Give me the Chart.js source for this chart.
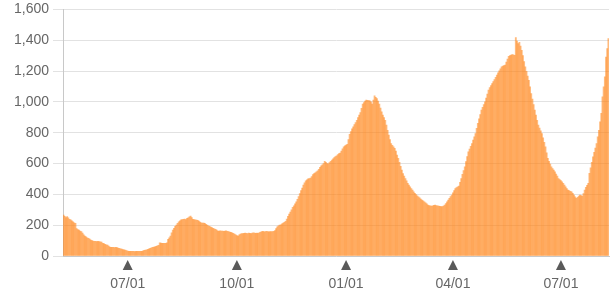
<!DOCTYPE html>
<html>
<head>
<meta charset="utf-8">
<script src="https://cdn.jsdelivr.net/npm/chart.js@4/dist/chart.umd.min.js"></script>
<style>
  html, body { margin: 0; padding: 0; background: #fff; overflow: hidden; }
  #wrap { position: relative; width: 613px; height: 303px; margin-top: -3px; }
</style>
</head>
<body>
<div id="wrap"><canvas id="casesChart"></canvas></div>
<script>
// first day of the series: 2020-05-08, one bar per day
const startDate = [2020, 4, 8];

// daily values, one row per month
const may2020 = [266, 258, 250, 255, 248, 238, 234, 228, 222, 216, 212, 178, 172, 168, 162, 158, 148, 138, 130, 124, 118, 115, 110, 104];
const jun2020 = [100, 96, 95, 95, 94, 95, 93, 92, 90, 82, 80, 76, 72, 71, 64, 58, 56, 57, 56, 55, 56, 54, 52, 50, 47, 45, 42, 40, 38, 35];
const jul2020 = [32, 30, 30, 31, 30, 30, 29, 30, 31, 30, 30, 30, 31, 34, 36, 38, 40, 43, 46, 50, 53, 56, 58, 60, 62, 66, 70, 86, 84, 82, 82];
const aug2020 = [82, 83, 86, 108, 118, 130, 150, 168, 180, 192, 201, 212, 222, 229, 234, 236, 238, 240, 236, 244, 248, 254, 259, 250, 238, 236, 234, 233, 232, 226, 220];
const sep2020 = [216, 214, 213, 212, 205, 200, 196, 192, 188, 184, 180, 176, 173, 168, 162, 161, 163, 162, 162, 160, 162, 163, 160, 158, 155, 153, 151, 147, 143, 138];
const oct2020 = [133, 130, 138, 143, 145, 146, 147, 148, 147, 146, 148, 147, 146, 148, 150, 149, 147, 148, 147, 152, 156, 158, 160, 157, 158, 160, 158, 157, 159, 158, 158];
const nov2020 = [160, 165, 178, 190, 196, 200, 203, 208, 214, 218, 225, 240, 258, 272, 285, 300, 315, 325, 338, 352, 368, 385, 405, 425, 440, 460, 475, 488, 495, 500];
const dec2020 = [503, 506, 515, 528, 535, 540, 546, 552, 562, 575, 585, 592, 600, 615, 608, 600, 598, 606, 614, 622, 630, 638, 645, 650, 658, 665, 668, 680, 695, 708, 715];
const jan2021 = [720, 725, 755, 790, 808, 825, 838, 852, 866, 881, 898, 915, 930, 958, 985, 995, 1005, 1011, 1010, 1008, 1006, 1000, 985, 1012, 1040, 1030, 1022, 1005, 985, 960, 935];
const feb2021 = [915, 898, 881, 850, 815, 784, 755, 730, 718, 708, 698, 680, 655, 633, 608, 582, 557, 535, 518, 503, 487, 471, 460, 449, 438, 428, 417, 406];
const mar2021 = [398, 391, 384, 377, 370, 363, 358, 352, 345, 338, 330, 327, 325, 324, 326, 328, 330, 327, 325, 324, 322, 321, 320, 324, 330, 340, 352, 363, 374, 385, 395];
const apr2021 = [410, 425, 438, 444, 449, 454, 478, 503, 530, 555, 579, 612, 645, 676, 694, 712, 730, 752, 774, 795, 828, 860, 890, 918, 946, 965, 983, 1000, 1025, 1050];
const may2021 = [1076, 1092, 1106, 1119, 1132, 1145, 1160, 1174, 1188, 1201, 1214, 1227, 1232, 1235, 1238, 1258, 1278, 1296, 1300, 1304, 1307, 1305, 1302, 1417, 1395, 1378, 1387, 1362, 1335, 1300, 1262];
const jun2021 = [1227, 1198, 1168, 1140, 1097, 1054, 1018, 982, 946, 914, 881, 849, 830, 812, 795, 766, 737, 708, 670, 633, 615, 597, 579, 568, 557, 546, 532, 518, 503, 496];
const jul2021 = [489, 482, 471, 460, 449, 438, 428, 424, 420, 417, 406, 395, 384, 374, 380, 388, 395, 392, 389, 405, 428, 445, 458, 471, 536, 572, 608, 643, 672, 701, 730];
const aug2021 = [773, 816, 870, 925, 1032, 1097, 1162, 1291, 1345, 1410];

const values = [].concat(may2020, jun2020, jul2020, aug2020, sep2020, oct2020, nov2020,
  dec2020, jan2021, feb2021, mar2021, apr2021, may2021, jun2021, jul2021, aug2021);

// axis
const yTicks = [0, 200, 400, 600, 800, 1000, 1200, 1400, 1600];
const tickMonths = ['01', '04', '07', '10'];

// one MM/DD label per bar
const labels = values.map((v, i) => {
  const d = new Date(startDate[0], startDate[1], startDate[2] + i);
  const mm = String(d.getMonth() + 1).padStart(2, '0');
  const dd = String(d.getDate()).padStart(2, '0');
  return mm + '/' + dd;
});

function isQuarterTick(lab) {
  return lab.slice(3) === '01' && tickMonths.includes(lab.slice(0, 2));
}

// small dark triangle above each date label
const tickMarkers = {
  id: 'tickMarkers',
  afterDraw(chart) {
    const x = chart.scales.x;
    const c = chart.ctx;
    c.save();
    c.fillStyle = '#5a5a5a';
    labels.forEach((lab, i) => {
      if (!isQuarterTick(lab)) return;
      const px = x.getPixelForValue(i);
      const top = x.top + 4;
      c.beginPath();
      c.moveTo(px, top);
      c.lineTo(px + 5, top + 10);
      c.lineTo(px - 5, top + 10);
      c.closePath();
      c.fill();
    });
    c.restore();
  }
};

const ctx = document.getElementById('casesChart').getContext('2d');
new Chart(ctx, {
  type: 'bar',
  data: {
    labels: labels,
    datasets: [{
      data: values,
      backgroundColor: 'rgba(255, 132, 24, 0.56)',
      borderWidth: 0,
      barPercentage: 1,
      categoryPercentage: 1
    }]
  },
  options: {
    responsive: true,
    maintainAspectRatio: false,
    animation: false,
    layout: { padding: { top: 0, right: 4, left: 0, bottom: 0 } },
    plugins: {
      legend: { display: false },
      tooltip: { enabled: false }
    },
    scales: {
      x: {
        grid: { display: false },
        border: { display: true, color: '#c8c8c8', width: 1 },
        ticks: {
          autoSkip: false,
          maxRotation: 0,
          padding: 12,
          color: '#666',
          font: { family: 'Liberation Sans, Arial, sans-serif', size: 14 },
          callback: function(value, index) {
            return isQuarterTick(labels[index]) ? labels[index] : null;
          }
        },
        afterFit: function(scale) { scale.height = 44; }
      },
      y: {
        min: 0,
        max: 1600,
        afterBuildTicks: function(scale) {
          scale.ticks = yTicks.map(v => ({ value: v }));
        },
        grid: { color: '#e2e2e2', lineWidth: 1, tickLength: 10 },
        border: { display: true, color: '#c8c8c8', width: 1 },
        ticks: {
          color: '#666',
          padding: 4,
          font: { family: 'Liberation Sans, Arial, sans-serif', size: 14 },
          callback: function(value) { return value.toLocaleString('en-US'); }
        },
        afterFit: function(scale) { scale.width = 63; }
      }
    }
  },
  plugins: [tickMarkers]
});
</script>
</body>
</html>
